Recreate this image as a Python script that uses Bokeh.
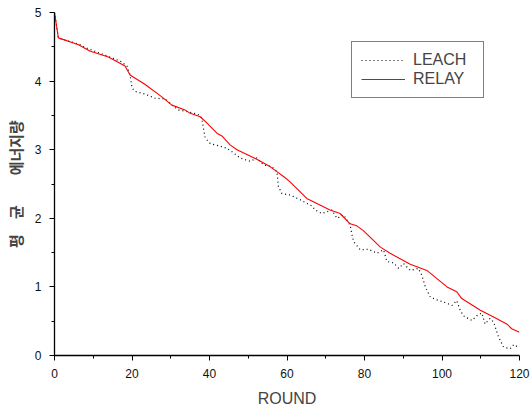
from bokeh.plotting import figure
from bokeh.models import Range1d, Legend, LegendItem, FixedTicker
from bokeh.embed import file_html
from bokeh.resources import INLINE

# RELAY series (round, average energy)
relay_round = [0, 1.0, 6.2, 9.1, 13.9, 18.2, 19.5, 23.4, 27.7, 30.3, 33.7, 35.0, 37.6, 39.3,
               41.9, 43.2, 45.3, 47.1, 52.2, 55.7, 57.4, 59.1, 60.8, 65.1, 71.1, 73.7, 76.3,
               78.0, 79.7, 84.1, 86.6, 91.8, 96.1, 101.3, 103.8, 105.1, 109.9, 113.3, 116.7,
               118.0, 120]
relay_energy = [5.0, 4.63, 4.53, 4.44, 4.35, 4.22, 4.09, 3.95, 3.77, 3.65, 3.58, 3.53, 3.48, 3.39,
                3.24, 3.20, 3.07, 3.00, 2.86, 2.75, 2.68, 2.61, 2.53, 2.29, 2.12, 2.07, 1.92,
                1.89, 1.82, 1.58, 1.49, 1.33, 1.24, 1.00, 0.93, 0.83, 0.66, 0.56, 0.46,
                0.39, 0.34]

# LEACH series
leach_round = [0, 1.0, 6.2, 7.9, 13.9, 17.0, 18.7, 19.5, 20.0, 20.8, 23.4, 26.0, 28.6, 30.3,
               32.0, 35.5, 37.2, 38.0, 38.5, 38.9, 40.2, 42.8, 44.5, 45.8, 47.9, 50.5, 52.2,
               53.9, 56.1, 57.4, 57.8, 58.7, 60.8, 63.4, 66.4, 67.3, 69.0, 71.6, 72.9, 74.6,
               76.3, 76.7, 77.2, 78.9, 81.0, 83.2, 84.9, 85.8, 87.5, 88.8, 90.1, 91.8, 93.9,
               94.8, 95.7, 97.0, 98.7, 100.4, 102.6, 103.8, 104.7, 105.5, 107.7, 109.0, 110.3,
               111.1, 112.4, 113.3, 114.6, 115.9, 117.6, 118.5, 119.7]
leach_energy = [5.0, 4.63, 4.54, 4.49, 4.36, 4.29, 4.22, 4.09, 3.90, 3.85, 3.81, 3.75, 3.74, 3.65,
                3.58, 3.54, 3.51, 3.46, 3.29, 3.17, 3.09, 3.05, 3.02, 2.97, 2.88, 2.83, 2.88,
                2.78, 2.75, 2.68, 2.46, 2.36, 2.34, 2.27, 2.18, 2.12, 2.07, 2.12, 2.00, 2.05,
                1.90, 1.78, 1.66, 1.54, 1.55, 1.49, 1.54, 1.37, 1.35, 1.27, 1.34, 1.24, 1.27,
                1.17, 1.00, 0.85, 0.81, 0.78, 0.73, 0.80, 0.66, 0.58, 0.51, 0.58, 0.62,
                0.46, 0.54, 0.49, 0.27, 0.12, 0.10, 0.16, 0.12]

x_ticks = [0, 20, 40, 60, 80, 100, 120]
y_ticks = [0, 1, 2, 3, 4, 5]
x_minor = [10, 30, 50, 70, 90, 110]
y_minor = [0.5, 1.5, 2.5, 3.5, 4.5]

p = figure(width=531, height=410, output_backend="svg", toolbar_location=None,
           x_range=Range1d(0, 120), y_range=Range1d(0, 5),
           min_border_left=54, min_border_right=12, min_border_top=12, min_border_bottom=55)
p.outline_line_color = None
p.xgrid.visible = False
p.ygrid.visible = False
p.background_fill_color = "white"
p.border_fill_color = "white"

l1 = p.line(leach_round, leach_energy, line_color="black", line_width=1.2, line_dash="1 3")
l2 = p.line(relay_round, relay_energy, line_color="#ff0000", line_width=1.1)

p.xaxis.ticker = FixedTicker(ticks=x_ticks, minor_ticks=x_minor)
p.yaxis.ticker = FixedTicker(ticks=y_ticks, minor_ticks=y_minor)

for ax in (p.xaxis[0], p.yaxis[0]):
    ax.axis_line_color = "black"
    ax.axis_line_width = 1.3
    ax.major_tick_line_color = "black"
    ax.minor_tick_line_color = "black"
    ax.major_tick_in = 0
    ax.major_tick_out = 5
    ax.minor_tick_in = 0
    ax.minor_tick_out = 3
    ax.major_label_text_font = "Liberation Sans"
    ax.major_label_text_font_size = "12px"
    ax.major_label_text_color = "#111111"

p.xaxis.axis_label = "ROUND"
p.xaxis.axis_label_text_font = "Liberation Sans"
p.xaxis.axis_label_text_font_size = "16px"
p.xaxis.axis_label_text_font_style = "normal"
p.xaxis.axis_label_standoff = 9
p.xaxis.major_label_standoff = 8

p.yaxis.axis_label = "평\u3000균\u3000\u3000에너지량"
p.yaxis.axis_label_text_font = "Noto Sans CJK KR"
p.yaxis.axis_label_text_font_size = "15px"
p.yaxis.axis_label_text_font_style = "bold"
p.yaxis.axis_label_standoff = 6
p.yaxis.major_label_standoff = 8

legend = Legend(items=[LegendItem(label="LEACH", renderers=[l1]),
                       LegendItem(label="RELAY", renderers=[l2])],
                location=(297, 257.5))
legend.label_text_font = "Liberation Sans"
legend.label_text_font_size = "16px"
legend.border_line_color = "black"
legend.border_line_width = 1
legend.background_fill_alpha = 1
legend.padding = 9
legend.margin = 0
legend.spacing = 1
legend.glyph_width = 44
legend.glyph_height = 18
legend.label_height = 18
legend.label_width = 61
legend.label_standoff = 8
p.add_layout(legend, "center")

open("out.html", "w").write(file_html(p, INLINE))
